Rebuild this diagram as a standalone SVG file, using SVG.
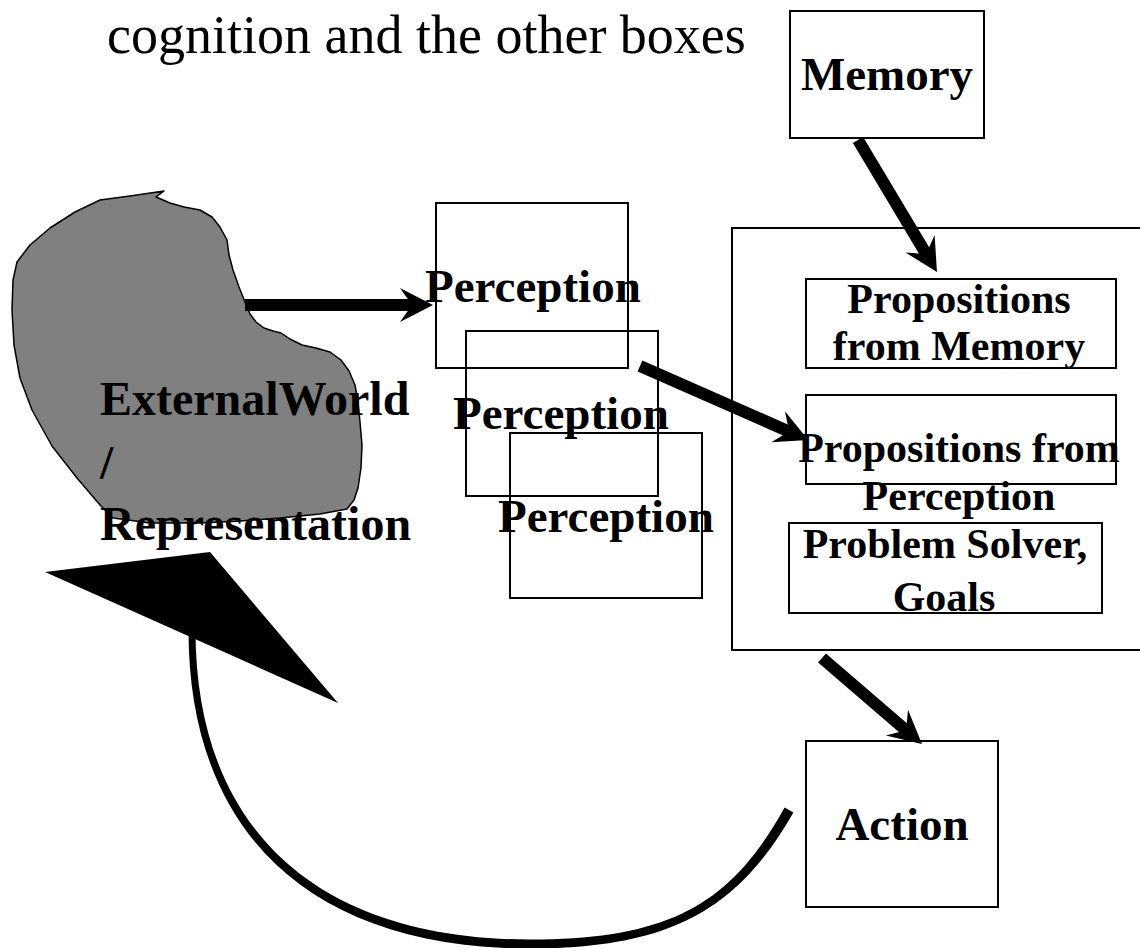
<svg xmlns="http://www.w3.org/2000/svg" width="1140" height="948" viewBox="0 0 1140 948">
  <style>
    .box { fill: none; stroke: #000; stroke-width: 2; }
    .lbl { font-family: "Liberation Serif", "Times New Roman", serif; font-weight: bold; fill: #000; }
    .big { font-size: 47px; }
    .mid { font-size: 42px; }
    .title { font-family: "Liberation Serif", "Times New Roman", serif; font-size: 54px; fill: #000; }
    .flow { stroke: #000; stroke-width: 12; fill: none; marker-end: url(#head); }
  </style>
  <defs>
    <marker id="head" markerUnits="userSpaceOnUse" viewBox="-36 -20 40 40" markerWidth="40" markerHeight="40" refX="-20" refY="0" orient="auto">
      <path d="M0,0 L-33,-17 L-21,0 L-33,17 Z" fill="#000"/>
    </marker>
  </defs>

  <rect width="1140" height="948" fill="#fff"/>

  <g id="title">
    <text class="title" x="107" y="53">cognition and the other boxes</text>
  </g>

  <g id="external-world">
    <path d="M164,191 L156,197 L170,203 L184,207 L200,210 L212,217 L220,227 L227,240 L229,255 L233,270 L239,287 L245,302 L250,314 L256,322 L264,328 L273,331 L281,333 L290,339 L302,345 L316,348 L330,352 L341,360 L349,371 L355,385 L358,402 L360,422 L362,445 L361,468 L358,488 L354,500 L347,509 L320,514 L280,518 L240,521 L200,523 L150,523 L113,518 L100,505 L77,478 L52,446 L32,410 L20,378 L14,345 L12,310 L13,280 L17,262 L30,245 L50,228 L75,212 L100,200 L130,196 Z" fill="#808080" stroke="#000" stroke-width="1.5" stroke-linejoin="round"/>
    <text class="lbl" x="100" y="415" style="font-size:48px">ExternalWorld</text>
    <text class="lbl" x="100" y="479" style="font-size:48px">/</text>
    <text class="lbl" x="100" y="540" style="font-size:48px">Representation</text>
  </g>

  <g id="perception-1">
    <rect class="box" x="436" y="203" width="192" height="165"/>
    <text class="lbl big" x="425" y="302">Perception</text>
  </g>
  <g id="perception-2">
    <rect class="box" x="466" y="331" width="192" height="165"/>
    <text class="lbl big" x="453" y="429">Perception</text>
  </g>
  <g id="perception-3">
    <rect class="box" x="510" y="433" width="192" height="165"/>
    <text class="lbl big" x="498" y="532">Perception</text>
  </g>

  <g id="memory">
    <rect class="box" x="790" y="11" width="194" height="127"/>
    <text class="lbl big" x="887" y="90" text-anchor="middle">Memory</text>
  </g>

  <g id="working-memory">
    <rect class="box" x="732" y="228" width="420" height="422"/>
  </g>

  <g id="prop-memory">
    <rect class="box" x="806" y="279" width="310" height="89"/>
    <text class="lbl mid" x="959" y="313" text-anchor="middle">Propositions</text>
    <text class="lbl mid" x="959" y="360" text-anchor="middle">from Memory</text>
  </g>

  <g id="prop-perception">
    <rect class="box" x="806" y="395" width="310" height="89"/>
    <text class="lbl mid" x="959" y="462" text-anchor="middle">Propositions from</text>
    <text class="lbl mid" x="959" y="510" text-anchor="middle">Perception</text>
  </g>

  <g id="problem-solver">
    <text class="lbl mid" x="945" y="558" text-anchor="middle">Problem Solver,</text>
    <text class="lbl mid" x="944" y="611" text-anchor="middle">Goals</text>
    <rect class="box" x="789" y="523" width="313" height="90"/>
  </g>

  <g id="action">
    <rect class="box" x="806" y="741" width="192" height="166"/>
    <text class="lbl big" x="902" y="840" text-anchor="middle">Action</text>
  </g>

  <g id="connectors">
    <line class="flow" x1="245" y1="305" x2="413" y2="305"/>
    <line class="flow" x1="640" y1="366" x2="790" y2="432"/>
    <line class="flow" x1="858" y1="140" x2="926.7" y2="254.9"/>
    <line class="flow" x1="822" y1="658" x2="906.8" y2="731"/>
    <!-- curved return from Action back to the world, tapering toward its head -->
    <path d="M188.5,626 L188.5,630 C188.5,833.8 311.4,948.5 530,948.5 C670,948.5 737.8,910.1 793.4,812.5 L784.6,807.5 C731.4,903.7 670,939.5 530,939.5 C315.9,939.5 195.5,828.1 195.5,630 L195.5,626 Z" fill="#000"/>
    <polygon points="45,572 210,552 338,703" fill="#000"/>
  </g>
</svg>
